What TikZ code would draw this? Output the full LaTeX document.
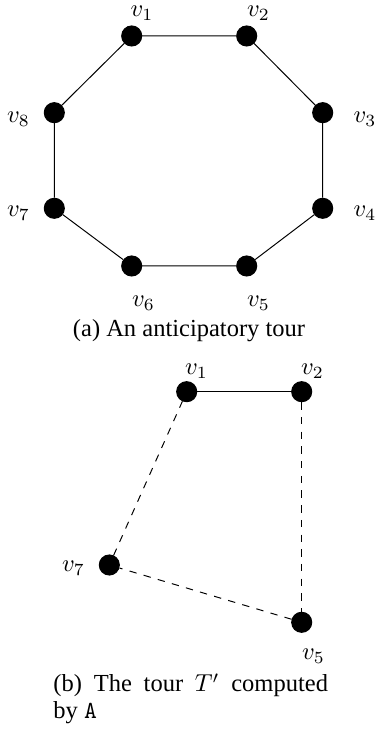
\documentclass[tikz,border=0pt]{standalone}
\usepackage[no-math]{fontspec}
\setmainfont{Liberation Serif}

\begin{document}
\begin{tikzpicture}[x=0.408pt, y=0.408pt,
  vertex/.style={draw, circle, fill=black, minimum size=8.2pt, inner sep=0pt},
  vlabel/.style={draw=none, fill=none, inner sep=0pt},
  caption/.style={draw=none, fill=none, inner sep=0pt, font=\fontsize{10}{11}\selectfont}]
  \useasboundingbox (0,0) rectangle (376,732);

  % (a) The anticipatory tour: eight vertices on an octagon
  \node[vertex] (a1) at (131.7,696) {};
  \node[vertex] (a2) at (246.7,696) {};
  \node[vertex] (a3) at (322.7,619.3) {};
  \node[vertex] (a4) at (322.7,523.7) {};
  \node[vertex] (a5) at (246.7,466) {};
  \node[vertex] (a6) at (131.7,466) {};
  \node[vertex] (a7) at (54.3,523.7) {};
  \node[vertex] (a8) at (54.3,619.3) {};

  % Vertex labels
  \node[vlabel] (la1) at (142,719) {$v_1$};
  \node[vlabel] (la2) at (258.5,719) {$v_2$};
  \node[vlabel] (la3) at (365,612.5) {$v_3$};
  \node[vlabel] (la4) at (365,519) {$v_4$};
  \node[vlabel] (la5) at (258.5,429) {$v_5$};
  \node[vlabel] (la6) at (143.5,429) {$v_6$};
  \node[vlabel] (la7) at (18.5,519) {$v_7$};
  \node[vlabel] (la8) at (18.5,612.5) {$v_8$};

  % Tour edges
  \draw (a1) -- (a2) -- (a3) -- (a4) -- (a5) -- (a6) -- (a7) -- (a8) -- (a1);

  \node[caption] (capa) at (189,401) {(a) An anticipatory tour};

  % (b) The tour T' computed by A
  \node[vertex] (b1) at (186.7,340.3) {};
  \node[vertex] (b2) at (301.7,340.3) {};
  \node[vertex] (b7) at (109.3,167) {};
  \node[vertex] (b5) at (301.7,109.7) {};

  \node[vlabel] (lb1) at (196.5,361) {$v_1$};
  \node[vlabel] (lb2) at (312.5,361) {$v_2$};
  \node[vlabel] (lb7) at (73.5,164) {$v_7$};
  \node[vlabel] (lb5) at (313.5,76) {$v_5$};

  % Solid edge kept, dashed edges are the shortcuts
  \draw (b1) -- (b2);
  \draw[dashed] (b2) -- (b5);
  \draw[dashed] (b5) -- (b7);
  \draw[dashed] (b7) -- (b1);

  \node[caption, text width=112pt, align=justify, anchor=north west] (capb) at (53,59)
    {(b) The tour $T'$ computed\linebreak by \texttt{A}};

\end{tikzpicture}
\end{document}
